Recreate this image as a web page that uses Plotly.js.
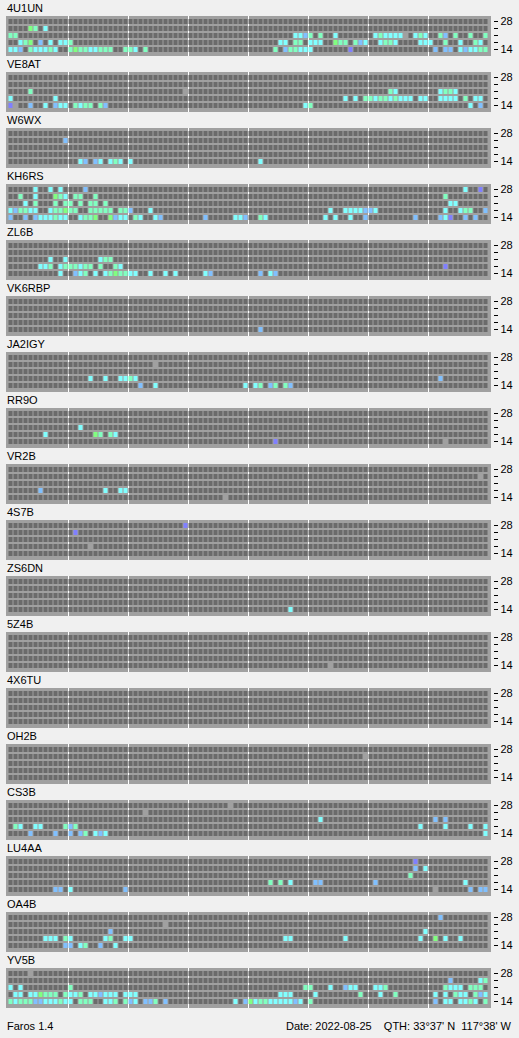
<!DOCTYPE html>
<html><head><meta charset="utf-8">
<script src="https://cdn.plot.ly/plotly-3.0.1.min.js"></script>
<style>html,body{margin:0;padding:0;background:#f0f0f0;overflow:hidden}#chart{width:519px;height:1038px}</style>
</head><body><div id="chart"></div>
<script>
// Beacon stations (top to bottom)
const stations = ["4U1UN","VE8AT","W6WX","KH6RS","ZL6B","VK6RBP","JA2IGY","RR9O","VR2B","4S7B","ZS6DN","5Z4B","4X6TU","OH2B","CS3B","LU4AA","OA4B","YV5B"];
// Bands in MHz (row order bottom -> top)
const bands = [14, 18, 21, 24, 28];
const bandTickText = ["14", "", "", "", "28"];
const slotCount = 96;               // 15-minute slots over 24 h
const slotsPerBlock = 12;           // white separator every 3 h
// Signal level codes: . none, x heard, p weakest ... G strongest
const levelCodes = ".xpbcmG";
const levelColors = ["#6b6b6b", "#a0a0a0", "#8080ff", "#80c0ff", "#80ffff", "#80ffc0", "#80ff80"];

// Observations per station: [14, 18, 21, 24, 28] MHz, entries "slot+level"
const obs_4U1UN = [
  "0c 1c 2b 4m 5c 6c 7c 8m 9c 12m 13G 14m 15m 16c 17c 18m 19m 20m 23m 24m 25c 27m 53m 55b 56m 57m 58c 59c 60c 68p 85b 87b 88b 90c 91b 92c 93c 94m 95m",
  "2c 3m 4G 6b 8c 10c 11c 12m 54c 55c 57m 58m 60c 61c 62c 65G 66m 67m 69m 70b 71c 74c 75m 76m 77c 82c 83c 84c 87m 90c 93m 94c",
  "0m 1m 57c 58c 59b 60m 62m 65c 73c 74m 75c 76c 77c 78c 79x 81c 82m 83c 86m 87b 89m 92m 95m",
  "4G 5m 7c",
  ""];
const obs_VE8AT = [
  "0p 1x 4b 7c 9b 10c 11c 13m 14c 15m 16m 18m 19b 59c 60m 92c 94b",
  "0c 9c 67c 69c 71m 72m 73c 74m 75m 76c 77m 78c 79c 80c 82c 83c 86c 87c 88c 89c 91m 93c 94c",
  "4m 35x 76m 77c 86c 87m 88m 89c",
  "",
  ""];
const obs_W6WX = [
  "14c 15b 17b 18c 20c 21m 22c 24c 50c",
  "",
  "",
  "11b",
  ""];
const obs_KH6RS = [
  "0b 3b 5b 6c 7c 8c 9m 10c 11c 14c 15m 16m 17G 20G 21b 22c 23c 25m 26c 29c 30b 39b 45c 46c 47b 50m 51c 63c 65c 68c 71b 81b 86b 87c 88p 91b 93b",
  "0c 1b 2m 3m 4c 5c 8c 9m 10m 11G 12m 13m 16m 17m 18m 19m 20m 22m 23m 24b 28c 64c 67c 68c 69c 70c 71b 72b 73c 87c 90c 91m 92m 95b",
  "3c 5m 9m 11m 12m 14m 16m 17m 19m 88c 89c",
  "2m 5c 9G 10m 11c 13m 14m 17m 87m",
  "5c 8c 10c 15b 91c 94p"];
const obs_ZL6B = [
  "10c 13b 14c 15m 17c 19c 20m 21G 22m 23m 24c 25c 28c 31c 33c 39c 40b 50b 52c 53b",
  "6c 7c 8m 10c 11m 12m 13m 14c 15m 16m 18m 21m 22c 87p",
  "8c 11c 18c 19m 20m",
  "",
  ""];
const obs_VK6RBP = ["50b", "", "", "", ""];
const obs_JA2IGY = [
  "26b 29c 47c 49c 50m 52b 53m 55m 56b",
  "16c 19c 22c 23c 24m 25c 86b",
  "",
  "29x",
  ""];
const obs_RR9O = ["53p 87x", "7c 17G 18m 20m 21c", "14c", "", ""];
const obs_VR2B = ["43x", "6b 19c 22c 23c", "", "94x", ""];
const obs_4S7B = ["", "16x", "", "13p", "35p"];
const obs_ZS6DN = ["56c", "", "", "", ""];
const obs_5Z4B = ["64x", "", "", "", ""];
const obs_4X6TU = ["", "", "", "", ""];
const obs_OH2B = ["", "", "", "71x", ""];
const obs_CS3B = [
  "4b 9b 12b 14b 15m 17c 18b 19c 95c",
  "1m 2c 5c 6c 11m 12b 13m 82c 87c 92c 95c",
  "62c 85b 87b",
  "27x",
  "44x"];
const obs_LU4AA = [
  "9b 10b 12c 23b 85x 92b 94b 95b",
  "52m 54m 56c 61b 62b 73b 91c",
  "80m",
  "81b 83c",
  "81p"];
const obs_OA4B = [
  "11b 12b 14c 15m 18b 21c",
  "7c 8c 9c 11m 12c 19c 20m 23c 24c 55c 56c 67c 82c 85G 87c 90c",
  "20b 83c",
  "31x",
  "86b"];
const obs_YV5B = [
  "0m 1c 2m 3m 4m 5b 6b 7c 8c 9c 10m 11c 12c 14m 15m 16m 19c 20c 21m 23m 24b 25c 27b 28b 29m 31b 45c 47b 48G 49c 50m 51m 52c 53c 54c 55c 56c 57b 58c 60m 85b 87c 88c 90c 91c 92m 93c 95m",
  "1c 2c 4c 5c 6G 7m 8m 9m 11m 12c 13c 14m 16c 17c 18b 19c 20c 21c 23c 24c 25c 54c 55c 56c 61c 70m 74c 77m 85c 87c 89m 90c 91c 93m 94b 95c",
  "0c 2c 12m 59m 60m 64c 67b 68c 69c 73c 74c 75m 87m 88c 89c 90c 92m 93m 94m",
  "88b 94c 95m",
  "4x"];

const stationObs = [obs_4U1UN, obs_VE8AT, obs_W6WX, obs_KH6RS, obs_ZL6B, obs_VK6RBP, obs_JA2IGY, obs_RR9O, obs_VR2B, obs_4S7B, obs_ZS6DN, obs_5Z4B, obs_4X6TU, obs_OH2B, obs_CS3B, obs_LU4AA, obs_OA4B, obs_YV5B];

const footerLeft = "Faros 1.4";
const footerRight = "Date: 2022-08-25\u00a0\u00a0\u00a0\u00a0QTH: 33°37' N\u00a0\u00a0117°38' W";

// ---- build ----
const W = 519, H = 1038;
const FONT = "Liberation Sans, Arial, sans-serif";
function parseRow(s) {
  const row = new Array(slotCount).fill(0);
  s.split(/\s+/).filter(Boolean).forEach(tok => {
    const m = tok.match(/^(\d+)([a-zA-Z])$/);
    if (m) row[+m[1]] = levelCodes.indexOf(m[2]);
  });
  return row;
}
const colorscale = [];
levelColors.forEach((c, i) => { colorscale.push([i / levelColors.length, c]); colorscale.push([(i + 1) / levelColors.length, c]); });

const slotX = Array.from({length: slotCount}, (_, i) => i);
const bandY = bands.map((b, i) => i);
const sepVals = [];
for (let k = slotsPerBlock; k < slotCount; k += slotsPerBlock) sepVals.push(k - 0.5);

const frameLeft = 6, frameRight = 491, frameTop0 = 16, frameH = 40, pitch = 56;
const data = [];
const layout = {
  width: W, height: H, margin: {l: 0, r: 0, t: 0, b: 0},
  paper_bgcolor: "#f0f0f0", plot_bgcolor: "#a0a0a0",
  showlegend: false, annotations: [], font: {family: FONT, size: 11, color: "#000"}
};
stations.forEach((name, i) => {
  const n = i === 0 ? "" : String(i + 1);
  const top = frameTop0 + pitch * i;
  data.push({
    type: "heatmap", z: stationObs[i].map(parseRow), x: slotX, y: bandY,
    zmin: -0.5, zmax: levelColors.length - 0.5, colorscale: colorscale, showscale: false,
    xgap: 1, ygap: 2, hoverinfo: "skip", xaxis: "x" + n, yaxis: "y" + n
  });
  layout["xaxis" + n] = {
    domain: [frameLeft / W, frameRight / W], range: [-1, 96], anchor: "y" + n,
    showticklabels: false, ticks: "", tickmode: "array", tickvals: sepVals,
    showgrid: true, gridcolor: "#ffffff", gridwidth: 1, zeroline: false, showline: false, fixedrange: true
  };
  layout["yaxis" + n] = {
    domain: [1 - (top + frameH) / H, 1 - top / H], range: [-0.5 - 3 / 7, 4.5 + 2 / 7],
    anchor: "free", position: 493.3 / W, side: "right",
    tickmode: "array", tickvals: bandY, ticktext: bandTickText,
    ticks: "outside", ticklen: 4, tickwidth: 1, tickcolor: "#000",
    tickfont: {family: FONT, size: 11, color: "#000"},
    showgrid: false, zeroline: false, showline: false, fixedrange: true
  };
  layout.annotations.push({
    text: name, xref: "paper", yref: "paper", x: 5 / W, y: 1 - (top - 8) / H,
    xanchor: "left", yanchor: "middle", showarrow: false,
    font: {family: FONT, size: 11, color: "#000"}
  });
});
layout.annotations.push({text: footerLeft, xref: "paper", yref: "paper", x: 5 / W, y: 1 - 1025.5 / H,
  xanchor: "left", yanchor: "middle", showarrow: false, font: {family: FONT, size: 11, color: "#000"}});
layout.annotations.push({text: footerRight, xref: "paper", yref: "paper", x: 514 / W, y: 1 - 1025.5 / H,
  xanchor: "right", yanchor: "middle", showarrow: false, font: {family: FONT, size: 11, color: "#000"}});

Plotly.newPlot("chart", data, layout, {staticPlot: true, displayModeBar: false});
</script></body></html>
